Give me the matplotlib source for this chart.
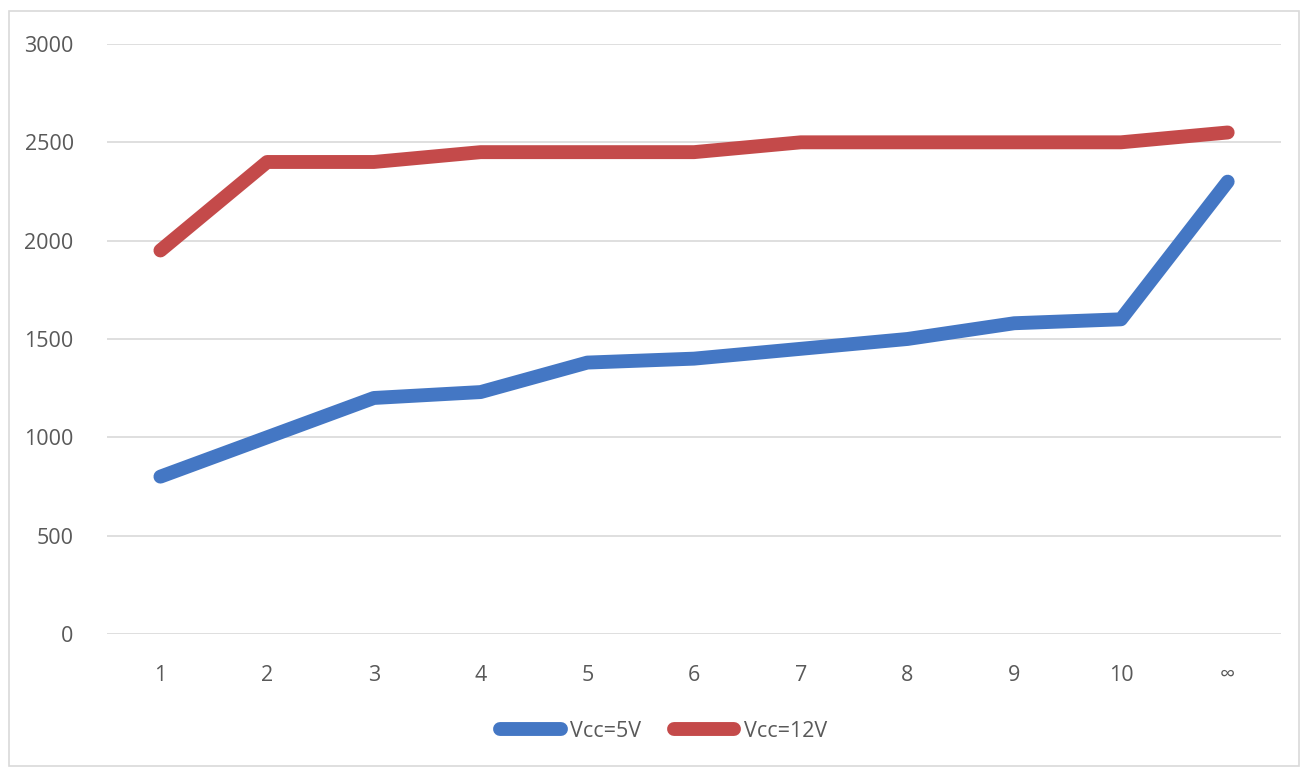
import matplotlib
matplotlib.use('Agg')
import matplotlib.pyplot as plt
from matplotlib.patches import Rectangle

plt.rcParams['font.family'] = ['Open Sans', 'DejaVu Sans']

categories = ['1', '2', '3', '4', '5', '6', '7', '8', '9', '10', '∞']
vcc5 = [800, 1000, 1200, 1230, 1380, 1400, 1450, 1500, 1580, 1600, 2300]
vcc12 = [1950, 2400, 2400, 2450, 2450, 2450, 2500, 2500, 2500, 2500, 2550]

blue = '#4477C4'
red = '#C44A4A'
txt = '#595959'

fig = plt.figure(figsize=(13.04, 7.69), dpi=100)
fig.patches.append(Rectangle((9 / 1304, 3 / 769), 1290 / 1304, 755 / 769,
                             transform=fig.transFigure, fill=False,
                             edgecolor='#D9D9D9', linewidth=1.2))

ax = fig.add_axes([0.0821, 0.1756, 0.9003, 0.7672])
x = list(range(len(categories)))
ax.plot(x, vcc5, color=blue, linewidth=10, solid_capstyle='round',
        solid_joinstyle='round', label='Vcc=5V')
ax.plot(x, vcc12, color=red, linewidth=10, solid_capstyle='round',
        solid_joinstyle='round', label='Vcc=12V')

ax.set_xlim(-0.5, len(categories) - 0.5)
ax.set_ylim(0, 3000)
ax.set_yticks(range(0, 3001, 500))
ax.set_xticks(x)
ax.set_xticklabels(categories)
ax.grid(axis='y', color='#D9D9D9', linewidth=1.2)
ax.set_axisbelow(True)
for s in ax.spines.values():
    s.set_visible(False)
ax.tick_params(axis='both', length=0, labelsize=15.5, colors=txt)
ax.tick_params(axis='y', pad=24)
ax.tick_params(axis='x', pad=22)

leg = ax.legend(loc='center', bbox_to_anchor=(0.474, -0.165), ncol=2,
                frameon=False, fontsize=15.5, handlelength=2.8,
                handletextpad=0.45, columnspacing=1.5)
for t in leg.get_texts():
    t.set_color(txt)

fig.savefig('out.png', dpi=100)
